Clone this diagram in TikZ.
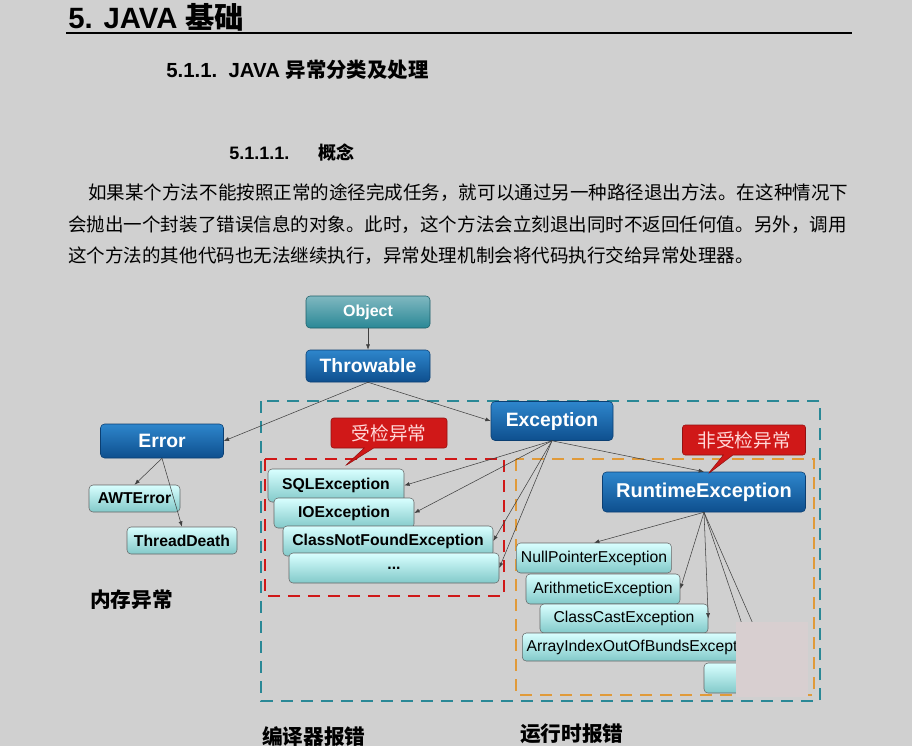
\documentclass[tikz,border=0pt]{standalone}
\usepackage{fontspec}
\setmainfont{Liberation Sans}
\newfontfamily\cjk{Noto Sans CJK SC}
\usetikzlibrary{arrows.meta,shapes.callouts}
\definecolor{bg}{HTML}{D0D0D0}
\definecolor{patch}{HTML}{D8CFD0}
\definecolor{bluetop}{HTML}{2E86CC}
\definecolor{bluebot}{HTML}{0E4F8E}
\definecolor{teal}{HTML}{2A8896}
\definecolor{redd}{HTML}{D01818}
\definecolor{orng}{HTML}{E09A3A}
\begin{document}
\begin{tikzpicture}[x=0.75pt,y=-0.75pt,
  bluebox/.style={draw=bluebot!80!black,rounded corners=3pt,top color=bluetop,bottom color=bluebot,text=white,font=\bfseries\fontsize{14.5}{16}\selectfont},
  tealbox/.style={draw=teal!70!black,rounded corners=3pt,top color=teal!60!white,bottom color=teal,text=white,font=\bfseries\fontsize{12}{14}\selectfont},
  litebox/.style={draw=gray!80!black,rounded corners=3pt,top color=cyan!15!white,bottom color=cyan!40!gray!70,text=black,font=\fontsize{11.8}{13}\selectfont},
  boldlite/.style={litebox,font=\bfseries\fontsize{11.8}{13}\selectfont},
  arr/.style={-{Latex[length=4pt,width=3pt]},black!75,thin},
  callbox/.style={rectangle callout,fill=redd,draw=redd!70!black,rounded corners=2pt,text=white!85!red,font=\cjk\fontsize{14}{16}\selectfont,minimum height=30*0.75pt},
  lab/.style={anchor=west,inner sep=0pt},
  body/.style={lab,font=\cjk\fontsize{13.9}{16}\selectfont},
  foot/.style={lab,font=\cjk\bfseries\fontsize{15.5}{17}\selectfont}]
\fill[bg] (0,0) rectangle (912,746);
\useasboundingbox (0,0) rectangle (912,746);
% headings
\node[lab,font=\bfseries\fontsize{22}{24}\selectfont] (h1) at (68,17) {5. JAVA {\cjk 基础}};
\draw[line width=1pt] (66,33) -- (852,33);
\node[lab,font=\bfseries\fontsize{15.3}{17}\selectfont] (h2) at (166,70) {5.1.1.\ \ JAVA {\cjk 异常分类及处理}};
\node[lab,font=\bfseries\fontsize{13.5}{15}\selectfont] (h3) at (229,153) {5.1.1.1.\hspace{1.6em}{\cjk 概念}};
\node[body] (p1) at (88,193) {如果某个方法不能按照正常的途径完成任务，就可以通过另一种路径退出方法。在这种情况下};
\node[body] (p2) at (68,225) {会抛出一个封装了错误信息的对象。此时，这个方法会立刻退出同时不返回任何值。另外，调用};
\node[body] (p3) at (68,256) {这个方法的其他代码也无法继续执行，异常处理机制会将代码执行交给异常处理器。};
% dashed regions
\draw[teal,line width=2pt,dash pattern=on 9pt off 6pt] (261,401) rectangle (820,701);
\draw[redd,line width=2pt,dash pattern=on 9pt off 6pt] (265,459) rectangle (504,596);
\draw[orng,line width=2pt,dash pattern=on 9pt off 6pt] (516,459) rectangle (814,695);
% top nodes
\node[tealbox,minimum width=124*0.75pt,minimum height=32*0.75pt] (obj) at (368,312) {Object};
\node[bluebox,minimum width=124*0.75pt,minimum height=32*0.75pt] (thr) at (368,366) {Throwable};
\node[bluebox,minimum width=123*0.75pt,minimum height=34*0.75pt] (err) at (162,441) {Error};
\node[bluebox,minimum width=122*0.75pt,minimum height=39*0.75pt] (exc) at (552,421) {Exception};
\node[bluebox,font=\bfseries\fontsize{15}{17}\selectfont,minimum width=203*0.75pt,minimum height=40*0.75pt] (rt) at (704,492) {RuntimeException};
\node[boldlite,minimum width=91*0.75pt,minimum height=27*0.75pt] (awt) at (134.5,498.5) {AWTError};
\node[boldlite,minimum width=110*0.75pt,minimum height=27*0.75pt] (td) at (182,540.5) {ThreadDeath};
% callouts
\node[callbox,minimum width=116*0.75pt,callout absolute pointer={(345,466)}] (c1) at (389,433) {受检异常};
\node[callbox,minimum width=123*0.75pt,callout absolute pointer={(708,474)}] (c2) at (744,440) {非受检异常};
% checked
\node[boldlite,minimum width=136*0.75pt,minimum height=33*0.75pt] (sql) at (336,485.5) {SQLException};
\node[boldlite,minimum width=140*0.75pt,minimum height=30*0.75pt] (io) at (344,513) {IOException};
\node[boldlite,minimum width=210*0.75pt,minimum height=30*0.75pt] (cnf) at (388,541) {ClassNotFoundException};
\node[boldlite,minimum width=210*0.75pt,minimum height=30*0.75pt] (dots) at (394,568) {...};
% unchecked
\node[litebox,minimum width=154*0.75pt,minimum height=30*0.75pt] (np) at (594,558) {NullPointerException};
\node[litebox,minimum width=154*0.75pt,minimum height=30*0.75pt] (ar) at (603,589) {ArithmeticException};
\node[litebox,minimum width=168*0.75pt,minimum height=29*0.75pt] (cc) at (624,618.5) {ClassCastException};
\node[litebox,anchor=west,minimum width=240*0.75pt,minimum height=28*0.75pt] (ai) at (522,647) {ArrayIndexOutOfBundsException};
\node[litebox,minimum width=56*0.75pt,minimum height=30*0.75pt] (last) at (732,678) {};
% arrows
\draw[arr] (obj) -- (thr);
\draw[arr] (thr.south) -- (err.east);
\draw[arr] (thr.south) -- (exc.west);
\draw[arr] (err.south) -- (awt.north);
\draw[arr] (err.south) -- (td.north);
\draw[arr] (exc.south) -- (sql.east);
\draw[arr] (exc.south) -- (io.east);
\draw[arr] (exc.south) -- (cnf.east);
\draw[arr] (exc.south) -- (dots.east);
\draw[arr] (exc.south) -- (rt.north);
\draw[arr] (rt.south) -- (np.north);
\draw[arr] (rt.south) -- (ar.east);
\draw[arr] (rt.south) -- (cc.east);
\draw[arr] (rt.south) -- (ai.east);
\draw[arr] (rt.south) -- (last.east);
% patch
\fill[patch] (736,622) rectangle (808,697);
% labels
\node[foot] (l1) at (90,600) {内存异常};
\node[foot] (l2) at (262,737) {编译器报错};
\node[foot] (l3) at (520,734) {运行时报错};
\end{tikzpicture}
\end{document}
